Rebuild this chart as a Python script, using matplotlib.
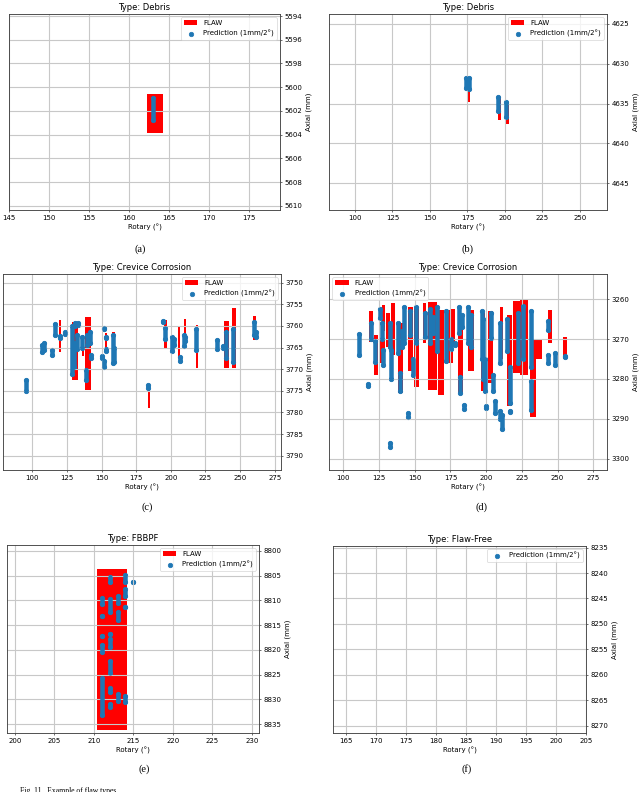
import matplotlib
matplotlib.use("Agg")
import matplotlib.pyplot as plt

# flaw boxes: (rotary_from, rotary_to, axial_from, axial_to)
# prediction columns: (rotary, axial_from, axial_to)
FLAW_A = [(162.3, 164.3, 5600.6, 5603.9)]
PRED_A = [(163.0, 5600.9, 5602.8)]

FLAW_B = [(174.8, 177.0, 4631.8, 4634.8),
          (195.3, 197.5, 4634.2, 4637.0),
          (200.5, 202.5, 4634.8, 4637.5)]
PRED_B = [(174.3, 4631.8, 4633.1), (175.8, 4631.8, 4633.2),
          (195.6, 4634.2, 4635.9), (200.7, 4634.8, 4636.7)]

FLAW_C = [(119.3, 120.8, 3758.6, 3766.0), (128.7, 133.3, 3759.0, 3772.5),
          (135.6, 137.0, 3762.0, 3767.0), (137.9, 142.7, 3758.0, 3774.8),
          (152.3, 154.2, 3761.7, 3766.0), (157.5, 159.5, 3761.5, 3769.0),
          (183.3, 185.0, 3773.5, 3779.0), (195.3, 197.2, 3758.6, 3765.0),
          (204.9, 206.7, 3760.0, 3767.3), (209.8, 211.3, 3758.5, 3764.6),
          (218.0, 219.8, 3759.7, 3769.8), (238.5, 242.2, 3758.8, 3769.8),
          (244.0, 246.8, 3755.9, 3769.8), (259.3, 261.3, 3757.8, 3763.3)]
PRED_C = [(95.3, 3772.5, 3775.0), (107.0, 3764.5, 3766.0), (108.3, 3764.0, 3765.5),
          (114.3, 3765.5, 3766.8), (116.3, 3759.5, 3762.0), (119.9, 3762.4, 3762.9),
          (123.7, 3761.4, 3761.8), (128.8, 3760.0, 3771.0), (129.8, 3764.0, 3769.5),
          (131.0, 3759.3, 3760.0), (133.0, 3759.3, 3759.8), (132.5, 3762.0, 3765.3),
          (136.0, 3762.5, 3765.0), (139.0, 3770.2, 3772.5), (139.5, 3762.0, 3764.5),
          (141.5, 3761.5, 3764.0), (142.2, 3766.8, 3767.3), (151.5, 3760.4, 3760.8),
          (153.0, 3762.5, 3762.9), (153.0, 3765.3, 3765.7), (150.5, 3767.0, 3767.5),
          (151.5, 3768.2, 3769.4), (158.5, 3762.0, 3768.5), (159.2, 3765.0, 3768.3),
          (183.5, 3773.6, 3774.4), (194.2, 3758.9, 3759.1), (195.5, 3760.5, 3763.0),
          (201.0, 3762.5, 3765.8), (202.5, 3763.0, 3764.5), (206.3, 3767.2, 3768.0),
          (209.3, 3762.0, 3764.6), (210.5, 3762.5, 3763.5), (218.0, 3760.8, 3765.5),
          (233.0, 3763.2, 3765.3), (237.8, 3764.7, 3765.0), (240.0, 3761.5, 3767.5),
          (245.0, 3760.7, 3768.3), (259.8, 3759.2, 3762.0), (261.3, 3761.5, 3762.5)]

FLAW_D = [(118.0, 121.0, 3263.0, 3270.7), (121.5, 124.0, 3269.0, 3279.0),
          (126.0, 129.0, 3270.0, 3276.0), (127.0, 129.5, 3261.5, 3268.0),
          (130.0, 133.0, 3263.5, 3272.0), (133.5, 136.5, 3261.0, 3274.0),
          (138.0, 142.0, 3266.0, 3283.5), (145.0, 149.0, 3262.0, 3278.0),
          (149.5, 153.0, 3262.0, 3282.0), (155.5, 158.0, 3261.0, 3271.0),
          (159.0, 165.5, 3260.8, 3282.7), (166.0, 170.5, 3262.7, 3284.0),
          (171.0, 176.5, 3262.7, 3276.0), (175.5, 178.0, 3262.5, 3271.0),
          (180.0, 184.0, 3264.0, 3283.5), (187.0, 191.5, 3262.7, 3278.0),
          (196.5, 199.0, 3263.5, 3283.0), (201.5, 205.0, 3263.0, 3281.0),
          (209.5, 212.0, 3262.0, 3275.0), (214.3, 217.8, 3264.0, 3286.8),
          (218.5, 223.7, 3260.5, 3278.5), (223.7, 229.5, 3260.0, 3278.9),
          (230.7, 235.0, 3270.0, 3289.5), (235.0, 239.0, 3270.0, 3275.0),
          (243.5, 246.0, 3262.7, 3271.0), (254.0, 256.3, 3269.5, 3275.0)]
PRED_D = [(110.8, 3268.8, 3273.9), (117.0, 3281.3, 3281.7), (119.5, 3266.0, 3270.0),
          (122.0, 3270.5, 3275.7), (125.5, 3262.5, 3264.6), (126.8, 3266.0, 3270.0),
          (128.0, 3272.7, 3276.5), (132.5, 3266.0, 3272.0), (133.2, 3272.8, 3280.0),
          (133.0, 3296.0, 3297.0), (138.5, 3266.0, 3273.5), (140.0, 3278.5, 3283.0),
          (141.0, 3268.0, 3272.0), (142.5, 3262.0, 3271.0), (145.5, 3288.5, 3289.5),
          (146.5, 3263.0, 3269.0), (148.5, 3275.0, 3279.0), (150.7, 3262.0, 3271.0),
          (157.0, 3263.5, 3269.5), (160.5, 3262.5, 3271.0), (162.5, 3264.5, 3268.5),
          (165.5, 3262.0, 3273.0), (172.0, 3263.0, 3275.4), (175.6, 3269.9, 3272.4),
          (178.0, 3271.0, 3271.5), (181.0, 3262.0, 3268.5), (183.0, 3264.0, 3267.0),
          (182.0, 3279.4, 3283.5), (184.5, 3286.5, 3287.5), (187.0, 3262.0, 3271.0),
          (189.5, 3264.0, 3272.0), (196.8, 3263.0, 3275.0), (197.8, 3265.0, 3280.0),
          (199.5, 3275.0, 3283.0), (200.0, 3286.8, 3287.2), (203.5, 3263.4, 3269.7),
          (205.0, 3279.0, 3283.0), (206.5, 3285.6, 3288.5), (209.5, 3288.0, 3290.0),
          (211.0, 3289.0, 3292.5), (210.0, 3266.0, 3276.0), (216.5, 3277.0, 3286.0),
          (216.7, 3288.0, 3288.3), (214.5, 3265.0, 3273.0), (222.5, 3263.4, 3276.0),
          (226.0, 3261.8, 3275.0), (231.7, 3263.0, 3277.0), (231.3, 3280.4, 3287.7),
          (243.5, 3274.0, 3276.0), (243.6, 3265.5, 3267.7), (248.0, 3273.5, 3276.5),
          (255.2, 3274.2, 3274.6)]

FLAW_E = [(210.4, 214.2, 8803.6, 8836.1)]
PRED_E = [(212.0, 8805.3, 8806.2), (214.0, 8804.8, 8806.3), (214.0, 8807.7, 8809.2),
          (214.0, 8811.4, 8811.4), (215.0, 8806.2, 8806.2), (211.0, 8809.6, 8810.8),
          (211.0, 8813.1, 8813.1), (211.0, 8817.1, 8817.1), (211.0, 8819.1, 8820.5),
          (212.0, 8809.7, 8812.3), (212.0, 8816.7, 8816.7), (212.0, 8817.9, 8819.4),
          (212.0, 8822.3, 8824.7), (212.0, 8827.8, 8828.5), (212.0, 8830.9, 8831.5),
          (213.0, 8809.2, 8810.6), (213.0, 8812.3, 8813.9), (211.0, 8825.7, 8833.2),
          (213.0, 8829.0, 8830.3), (214.0, 8829.3, 8830.6)]

FLAW_F = []
PRED_F = []

PANELS = [
    # title, flaws, preds, xlim, ylim, xticks, yticks, legend loc, caption
    ("Type: Debris", FLAW_A, PRED_A, (145, 178.9), (5610.36, 5593.83),
     range(145, 180, 5), range(5594, 5611, 2), "upper right", "(a)"),
    ("Type: Debris", FLAW_B, PRED_B, (82.7, 268), (4648.35, 4623.75),
     range(100, 251, 25), range(4625, 4646, 5), "upper right", "(b)"),
    ("Type: Crevice Corrosion", FLAW_C, PRED_C, (78.9, 279.5), (3793.3, 3748.0),
     range(100, 276, 25), range(3750, 3791, 5), "upper right", "(c)"),
    ("Type: Crevice Corrosion", FLAW_D, PRED_D, (90, 284.6), (3302.8, 3253.7),
     range(100, 276, 25), range(3260, 3301, 10), "upper left", "(d)"),
    ("Type: FBBPF", FLAW_E, PRED_E, (199, 230.9), (8836.8, 8798.8),
     range(200, 231, 5), range(8800, 8836, 5), "upper right", "(e)"),
    ("Type: Flaw-Free", FLAW_F, PRED_F, (162.9, 205), (8271.4, 8234.7),
     range(165, 206, 5), range(8235, 8271, 5), "upper right", "(f)"),
]

# axes boxes in pixels: left, top, width, height ; caption centre in pixels
W, H = 640, 792
BOXES = [(9, 14, 271, 196), (329, 14, 278, 196),
         (3, 274, 278, 196), (329, 274, 278, 196),
         (7, 545, 252, 188), (333, 546, 253, 187)]
CAPS = [(140, 249), (467, 249), (147, 507), (482, 507), (144, 769), (467, 769)]

fig = plt.figure(figsize=(12.8, 15.84), dpi=50)

for (title, flaws, preds, xl, yl, xt, yt, loc, cap), box, cpos in zip(PANELS, BOXES, CAPS):
    l, t, w, h = box
    ax = fig.add_axes([l / W, 1 - (t + h) / H, w / W, h / H])
    handles = []

    if flaws:
        x0 = [f[0] for f in flaws]
        x1 = [f[1] for f in flaws]
        y0 = [f[2] for f in flaws]
        y1 = [f[3] for f in flaws]
        bars = ax.bar([(a + b) / 2 for a, b in zip(x0, x1)],
                      [b - a for a, b in zip(y0, y1)],
                      width=[b - a for a, b in zip(x0, x1)],
                      bottom=y0, color="red", label="FLAW")
        handles.append(bars)

    px = [p[0] for p in preds]
    py0 = [p[1] for p in preds]
    py1 = [p[2] for p in preds]
    if preds:
        lc = ax.vlines(px, py0, py1, color="C0", linewidth=6.5)
        lc.set_capstyle("round")
    sc = ax.scatter(px + px, py0 + py1, s=42, color="C0", label="Prediction (1mm/2°)")
    handles.append(sc)

    ax.set_xlim(*xl)
    ax.set_ylim(*yl)
    ax.set_xticks(list(xt))
    ax.set_yticks(list(yt))
    ax.yaxis.tick_right()
    ax.yaxis.set_label_position("right")
    ax.set_xlabel("Rotary (°)")
    ax.set_ylabel("Axial (mm)")
    ax.set_title(title)
    ax.grid(True, linewidth=1.6, color="#c8c8c8")
    for sp in ax.spines.values():
        sp.set_linewidth(1.3)
        sp.set_color("#444444")
    ax.legend(handles=handles, loc=loc)

    fig.text(cpos[0] / W, 1 - cpos[1] / H, cap, ha="center", va="center",
             family="Liberation Serif", fontsize=15)

fig.text(20 / W, 1 - 787 / H, "Fig. 11.  Example of flaw types.", ha="left", va="top",
         family="Liberation Serif", fontsize=11)

fig.savefig("out.png", dpi=50)
